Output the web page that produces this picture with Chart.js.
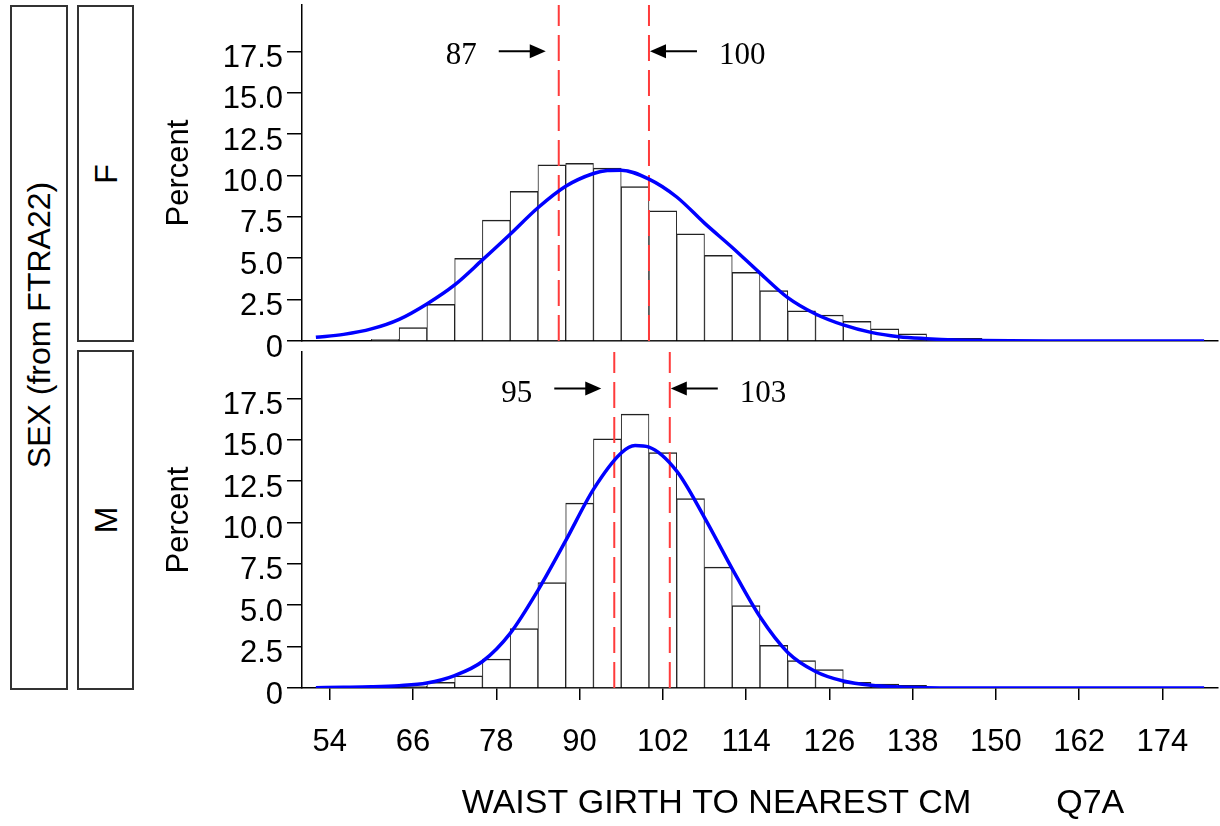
<!DOCTYPE html>
<html lang="en">
<head>
<meta charset="UTF-8">
<title>Waist girth by sex</title>
<script src="https://cdn.jsdelivr.net/npm/chart.js"></script>
<style>
  body { margin: 0; background: #fff; }
  #wrap { position: relative; width: 1220px; height: 826px; overflow: hidden; font-family: "Liberation Sans", Arial, sans-serif; }
  canvas { position: absolute; left: 0; top: 0; }
  .strip { position: absolute; border: 2px solid #333; box-sizing: border-box; }
  .strip span { position: absolute; left: 50%; top: 50%; transform: translate(-50%, -50%) rotate(-90deg); white-space: nowrap; font-size: 32px; color: #000; }
</style>
</head>
<body>
<div id="wrap">
  <div class="strip" style="left:10px;top:5px;width:58px;height:685px;"><span style="top:318px">SEX (from FTRA22)</span></div>
  <div class="strip" style="left:77px;top:5px;width:57px;height:337px;"><span>F</span></div>
  <div class="strip" style="left:77px;top:350px;width:57px;height:340px;"><span>M</span></div>
  <canvas id="chartF" width="1220" height="826"></canvas>
  <canvas id="chartM" width="1220" height="826"></canvas>
</div>
<script>
// histogram bins (4 cm wide, given by centre) and percent per bin
const fBinCenters = [62, 66, 70, 74, 78, 82, 86, 90, 94, 98, 102, 106, 110, 114, 118, 122, 126, 130, 134, 138, 142, 146];
const fPercent    = [0.1, 0.81, 2.22, 5.0, 7.3, 9.05, 10.65, 10.73, 10.44, 9.33, 7.86, 6.47, 5.17, 4.15, 3.04, 1.83, 1.57, 1.19, 0.73, 0.44, 0.16, 0.16];
const mBinCenters = [66, 70, 74, 78, 82, 86, 90, 94, 98, 102, 106, 110, 114, 118, 122, 126, 130, 134, 138];
const mPercent    = [0.1, 0.35, 0.73, 1.75, 3.59, 6.37, 11.17, 15.06, 16.55, 14.23, 11.45, 7.3, 4.98, 2.58, 1.65, 1.11, 0.34, 0.24, 0.16];

// fitted normal curves
const fCurveX = [52, 56, 60, 64, 68, 72, 76, 80, 84, 88, 92, 94, 96, 100, 104, 108, 112, 116, 120, 124, 128, 132, 136, 140, 144, 148, 152, 160, 170, 180];
const fCurveY = [0.22, 0.4, 0.73, 1.31, 2.24, 3.39, 4.9, 6.45, 8.05, 9.35, 10.12, 10.3, 10.32, 9.78, 8.7, 7.12, 5.65, 4.1, 2.62, 1.63, 0.97, 0.52, 0.26, 0.14, 0.06, 0.03, 0.01, 0, 0, 0];
const mCurveX = [52, 56, 60, 64, 68, 72, 76, 80, 84, 88, 92, 96, 98, 100, 104, 108, 112, 116, 120, 124, 128, 132, 136, 140, 150, 180];
const mCurveY = [0.02, 0.04, 0.07, 0.14, 0.3, 0.75, 1.6, 3.3, 5.9, 8.9, 12.0, 14.2, 14.65, 14.55, 13.1, 10.3, 7.2, 4.3, 2.15, 1.0, 0.42, 0.16, 0.06, 0.02, 0, 0];

// dashed reference lines
const fMarkers = [87, 100];
const mMarkers = [95, 103];

const xTickValues = [54, 66, 78, 90, 102, 114, 126, 138, 150, 162, 174];
const yTickValues = [0, 2.5, 5.0, 7.5, 10.0, 12.5, 15.0, 17.5];

Chart.defaults.font.family = '"Liberation Sans", Arial, sans-serif';
Chart.defaults.color = '#000';

const markerLabels = {
  id: 'markerLabels',
  afterDatasetsDraw(chart, args, opts) {
    const { ctx, scales: { x, y } } = chart;
    const py = y.getPixelForValue(opts.level);
    ctx.save();
    ctx.fillStyle = '#000';
    ctx.strokeStyle = '#000';
    ctx.lineWidth = 2;
    ctx.font = '31px "Liberation Serif", "Times New Roman", serif';
    ctx.textBaseline = 'middle';
    opts.markers.forEach((m, i) => {
      const px = x.getPixelForValue(m);
      const dir = i === 0 ? 1 : -1;
      const tip = i === 0 ? px - 13 : px + 1;
      const tail = tip - dir * 47;
      ctx.beginPath();
      ctx.moveTo(tail, py);
      ctx.lineTo(tip - dir * 14, py);
      ctx.stroke();
      ctx.beginPath();
      ctx.moveTo(tip, py);
      ctx.lineTo(tip - dir * 16, py - 7);
      ctx.lineTo(tip - dir * 16, py + 7);
      ctx.closePath();
      ctx.fill();
      ctx.textAlign = i === 0 ? 'right' : 'left';
      ctx.fillText(String(m), tail - dir * 22, py + 5);
    });
    ctx.restore();
  }
};

function makePanel(id, centers, pct, curveX, curveY, markers, level, isBottom) {
  const yMax = 20.3;
  const datasets = [{
    type: 'bar',
    data: centers.map((c, i) => ({ x: c, y: pct[i] })),
    backgroundColor: '#fff',
    borderColor: '#222',
    borderWidth: { top: 1.5, left: 1, right: 1, bottom: 0 },
    borderSkipped: false,
    barPercentage: 1,
    categoryPercentage: 1,
    grouped: false,
    order: 3
  }];
  markers.forEach(m => datasets.push({
    type: 'line',
    data: [{ x: m, y: 0 }, { x: m, y: yMax }],
    borderColor: '#ff3b3b',
    borderWidth: 2,
    borderDash: [26, 9],
    pointRadius: 0,
    order: 2
  }));
  datasets.push({
    type: 'line',
    data: curveX.map((x, i) => ({ x: x, y: curveY[i] })),
    borderColor: '#0000ff',
    borderWidth: 3.5,
    pointRadius: 0,
    cubicInterpolationMode: 'monotone',
    order: 1
  });

  return new Chart(document.getElementById(id), {
    type: 'bar',
    data: { datasets },
    plugins: [markerLabels],
    options: {
      responsive: false,
      animation: false,
      events: [],
      layout: { padding: { left: 161, right: 2, top: isBottom ? 352 : 5, bottom: isBottom ? 0 : 485 } },
      plugins: {
        legend: { display: false },
        tooltip: { enabled: false },
        markerLabels: { markers, level }
      },
      scales: {
        x: {
          type: 'linear',
          min: 50,
          max: 182,
          offset: false,
          afterBuildTicks: s => { s.ticks = xTickValues.map(v => ({ value: v })); },
          afterFit: s => { s.height = isBottom ? 138 : 0; s.paddingLeft = 0; s.paddingRight = 0; },
          ticks: { display: isBottom, autoSkip: false, maxRotation: 0, padding: 24, font: { size: 31 } },
          grid: { offset: false, drawOnChartArea: false, drawTicks: isBottom, tickLength: 12, color: '#000', lineWidth: 1.5 },
          border: { color: '#000', width: 1.5 },
          title: {
            display: isBottom,
            text: '       WAIST GIRTH TO NEAREST CM         Q7A',
            font: { size: 34 },
            padding: { top: 0, bottom: 2 }
          }
        },
        y: {
          min: 0,
          max: yMax,
          afterBuildTicks: s => { s.ticks = yTickValues.map(v => ({ value: v })); },
          afterFit: s => { s.width = 141; s.paddingTop = 0; s.paddingBottom = 0; },
          ticks: {
            padding: 4,
            labelOffset: 7,
            font: { size: 31 },
            callback: v => (v === 0 ? '0' : v.toFixed(1))
          },
          grid: { drawOnChartArea: false, tickLength: 15, color: '#000', lineWidth: 1.5 },
          border: { color: '#000', width: 1.5 },
          title: { display: true, text: 'Percent', font: { size: 31 }, padding: 0 }
        }
      }
    }
  });
}

makePanel('chartF', fBinCenters, fPercent, fCurveX, fCurveY, fMarkers, 17.5, false);
makePanel('chartM', mBinCenters, mPercent, mCurveX, mCurveY, mMarkers, 18.1, true);
</script>
</body>
</html>
